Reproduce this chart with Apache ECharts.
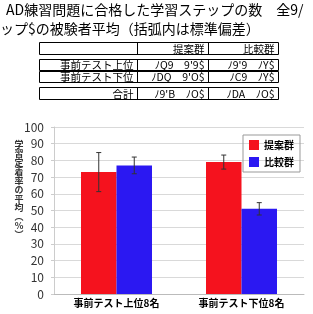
<!DOCTYPE html>
<html>
<head>
<meta charset="utf-8">
<script src="https://cdn.jsdelivr.net/npm/echarts@6/dist/echarts.min.js"></script>
<style>
  html, body { margin: 0; padding: 0; background: #fff; }
  #chart { width: 313px; height: 314px; }
</style>
</head>
<body>
<div id="chart"></div>
<script>
// グラフのデータ
const categories = ['事前テスト上位8名', '事前テスト下位8名'];
const seriesNames = ['提案群', '比較群'];
const proposed = [73, 79];
const proposedErr = [11.7, 4.2];
const control = [77, 51];
const controlErr = [5, 3.7];
const yTicks = [0, 100, 10];
const yTitle = '学習定着率の平均︵%︶';

// 上の表
const titleLines = ['AD練習問題に合格した学習ステップの数　全9/', 'ップ$の被験者平均（括弧内は標準偏差）'];
const tableHeader = ['', '提案群', '比較群'];
const tableRows = [
  ['事前テスト上位', 'ﾉQ9　9\'9$', 'ﾉ9\'9　ﾉY$'],
  ['事前テスト下位', 'ﾉDQ　9\'O$', 'ﾉC9　ﾉY$'],
  ['合計', 'ﾉ9\'B　ﾉO$', 'ﾉDA　ﾉO$']
];

const RED = '#f5121e';
const BLUE = '#2b18f2';
const FONT = '"Noto Sans CJK JP", sans-serif';

const chart = echarts.init(document.getElementById('chart'));

function errorSeries(values, errs, offset) {
  return {
    type: 'custom',
    z: 5,
    silent: true,
    data: values.map((v, i) => [i, v - errs[i], v + errs[i]]),
    renderItem(params, api) {
      const lo = api.coord([api.value(0), api.value(1)]);
      const hi = api.coord([api.value(0), api.value(2)]);
      const x = lo[0] + offset;
      const w = 2.5;
      const style = { stroke: '#333', lineWidth: 1 };
      return {
        type: 'group',
        children: [
          { type: 'line', shape: { x1: x, y1: lo[1], x2: x, y2: hi[1] }, style },
          { type: 'line', shape: { x1: x - w, y1: lo[1], x2: x + w, y2: lo[1] }, style },
          { type: 'line', shape: { x1: x - w, y1: hi[1], x2: x + w, y2: hi[1] }, style }
        ]
      };
    }
  };
}

// 表を graphic で組み立てる
const colX = [39.5, 137.5, 208.5, 278.5];
const rowY = [[42.5, 54.5], [59.5, 70.5], [71.5, 82.5], [87.5, 99.5]];
const graphics = [];
titleLines.forEach((t, i) => {
  graphics.push({
    type: 'text', left: i === 0 ? 6 : 0, top: i === 0 ? 3 : 22,
    style: { text: t, font: '14px ' + FONT, fill: '#000' }
  });
});
const allRows = [tableHeader].concat(tableRows);
allRows.forEach((row, r) => {
  const [y0, y1] = rowY[r];
  graphics.push({
    type: 'rect',
    shape: { x: colX[0], y: y0, width: colX[3] - colX[0], height: y1 - y0 },
    style: { fill: 'none', stroke: '#000', lineWidth: 1 }
  });
  for (let c = 1; c < 3; c++) {
    graphics.push({
      type: 'line',
      shape: { x1: colX[c], y1: y0, x2: colX[c], y2: y1 },
      style: { stroke: '#000', lineWidth: 1 }
    });
  }
  row.forEach((cell, c) => {
    if (!cell) return;
    graphics.push({
      type: 'text',
      x: colX[c + 1] - 4, y: (y0 + y1) / 2 + 0.5,
      style: {
        text: cell, font: '10.5px ' + FONT, fill: '#000',
        align: 'right', verticalAlign: 'middle'
      }
    });
  });
});
// 縦書きの軸名
graphics.push({
  type: 'text', x: 19, y: 140,
  style: {
    text: yTitle.split('').join('\n'),
    font: 'bold 9px ' + FONT, fill: '#333',
    align: 'center', verticalAlign: 'top', lineHeight: 9
  }
});

chart.setOption({
  animation: false,
  textStyle: { fontFamily: FONT },
  graphic: graphics,
  grid: { left: 54, right: 9, top: 127, bottom: 20, containLabel: false },
  legend: {
    data: seriesNames,
    orient: 'vertical',
    right: 13, top: 135,
    itemWidth: 10, itemHeight: 10, itemGap: 7,
    padding: [5, 6, 5, 6],
    borderColor: '#999', borderWidth: 1,
    icon: 'rect',
    textStyle: { fontSize: 10, color: '#000', fontWeight: 'bold' }
  },
  xAxis: {
    type: 'category',
    data: categories,
    axisLine: { lineStyle: { color: '#bbb' } },
    axisTick: { show: false },
    axisLabel: { fontSize: 10, color: '#000', fontWeight: 'bold', margin: 4 }
  },
  yAxis: {
    type: 'value',
    min: yTicks[0], max: yTicks[1], interval: yTicks[2],
    axisLine: { show: true, lineStyle: { color: '#ccc' } },
    axisTick: { show: true, length: 3, lineStyle: { color: '#ccc' } },
    axisLabel: { fontSize: 12, color: '#333', margin: 10 },
    splitLine: { lineStyle: { color: '#d9d9d9' } }
  },
  series: [
    {
      name: seriesNames[0], type: 'bar', data: proposed,
      barWidth: 35.5, barGap: '0%',
      itemStyle: { color: RED }
    },
    {
      name: seriesNames[1], type: 'bar', data: control,
      barWidth: 35.5, barGap: '0%',
      itemStyle: { color: BLUE }
    },
    errorSeries(proposed, proposedErr, -17.75),
    errorSeries(control, controlErr, 17.75)
  ]
});
</script>
</body>
</html>
